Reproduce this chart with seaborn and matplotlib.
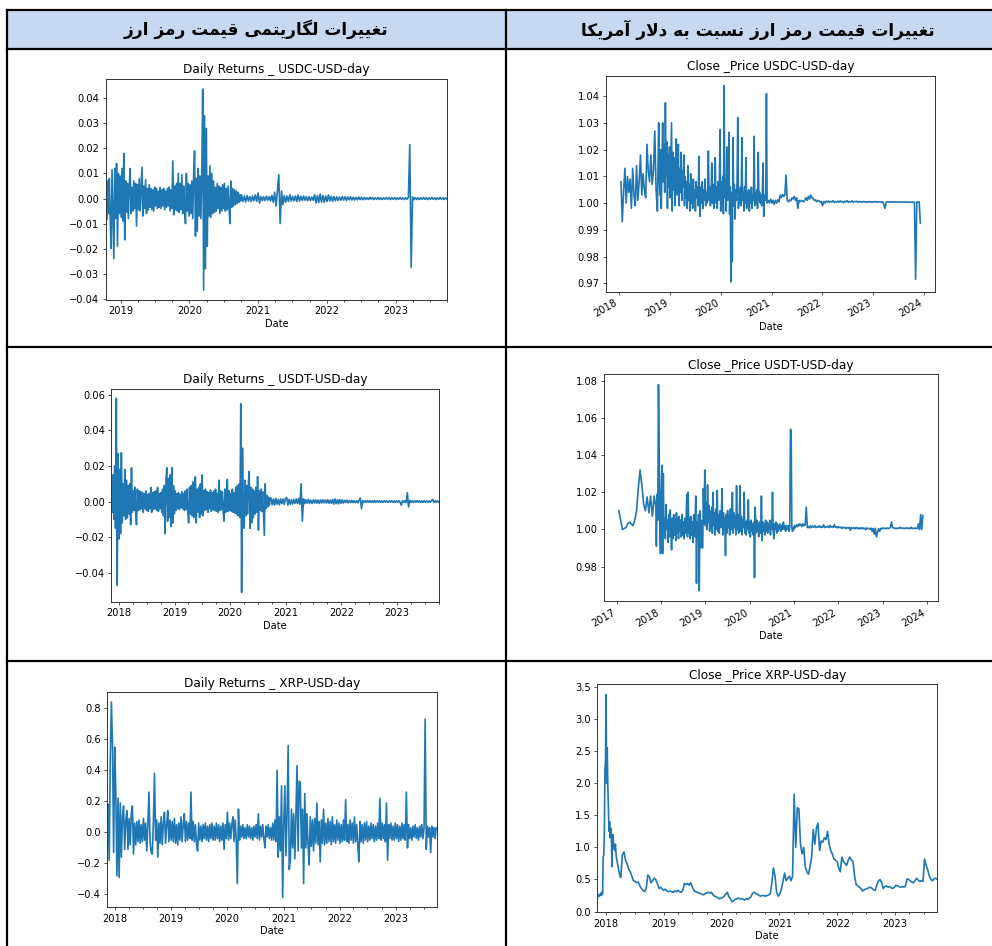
import numpy as np
import pandas as pd
import matplotlib
matplotlib.use("Agg")
import matplotlib.pyplot as plt
import matplotlib.dates as mdates
from matplotlib.ticker import MultipleLocator
from matplotlib.lines import Line2D
from matplotlib.patches import Rectangle
import seaborn as sns

# ------------------------------------------------------------------ text
header_left = "تغییرات لگاریتمی قیمت رمز ارز"
header_right = "تغییرات قیمت رمز ارز نسبت به دلار آمریکا"
title_usdc_ret = "Daily Returns _ USDC-USD-day"
title_usdc_px = "Close _Price USDC-USD-day"
title_usdt_ret = "Daily Returns _ USDT-USD-day"
title_usdt_px = "Close _Price USDT-USD-day"
title_xrp_ret = "Daily Returns _ XRP-USD-day"
title_xrp_px = "Close _Price XRP-USD-day"
xlabel = "Date"

# ------------------------------------------------------------------ data
# USDC daily log returns (units of 1e-4)
usdc_ret_dense_e4 = [105, -85, 70, -60, 80, -90, -200, 115, -70, -240,
    120, -80, 140, -190, 100, -60, 90, -75, 120, -90,
    180, -165, 70, -55, 60, -80, 50, 120, -60, 45,
    -50, 70, -40, 60, -110, 55, -45, 80, -50, 40,
    125, -70, 50, -40, 75, -60, 40, -45, 55, -35,
    40, -45, 35, -50, 45, -30, 40, -40, 30, -35,
    45, -40, 35, -30, 40, -45, 30, -35, 40, -30,
    45, -50, 35, -40, 150, -65, 50, -45, 60, -50,
    100, -55, 60, -45, 95, -60, 50, -40, -100, 100,
    -50, 60, -70, 55, -60, 70, -80, 90, 190, -150,
    80, -130, 120, -70, 90, -80, 100, 437, -365, 330,
    -280, 280, -190, 90, -70, 130, -75, 100, -60, 70,
    -55, 45, -50, 60, -40, 50, -60, 45, -50, 55,
    -40, 60, -50, 40, -45, 50, -35, -100, 70, -35,
    40, -30, 35, -25, 30, -20, 25, -15, 15, -10]
usdc_ret_calm_e4 = [15, -12, 10, -14, 12, -10, 8, -12, 10, -9, 14, -11,
    22, -18,
    8, -9, 7, -8, 9, -7, 8, -10, 12, -15,
    25, -30, 28, 95, -100, 30, -25,
    12, -15, 10, -12, 15, -10, 8, -9, 10, -12, 14, -10, 9, -8, 10, -7, 8, -9, 7, -8, 6, -7,
    15, -18, 12, -16, 18, -14, 12, -15, 10, -12, 14, -10, 9, -11, 8, -9,
    7, -8, 6, -7, 8, -6, 7, -8, 6, -5, 7, -6, 5, -6, 4, -5, 6, -4, 5, -5,
    4, -4, 3, -4, 5, -3, 4, -4, 3, -3, 4, -4, 3, -4, 3, -3, 4, -3, 3, -4, 3, -3, 4, -4, 3, -3, 4, -3, 3, -4, 3, -3,
    5, 215, -275, 6,
    -5, 4, -4, 3, -4, 3, -3, 4, -3, 3, -4, 3, -3, 4, -3, 3, -4, 3, -3, 4, -3, 3, -4, 3, -3]

# USDC close price
usdc_px_2018 = [1.008, 0.993, 1.004, 1.013, 1.000, 1.010, 1.004, 1.009, 0.998, 1.013,
    1.003, 0.999, 1.014, 1.001, 1.008, 1.018, 1.003, 1.011, 1.005, 1.002,
    1.022, 1.012, 1.008, 1.018, 1.007, 1.012, 1.027, 1.005, 0.997, 1.030]
usdc_px_dense = [1.012, 1.003, 1.020, 0.998, 1.015, 1.030, 1.008, 1.022, 1.004, 1.0375,
    1.010, 1.023, 0.998, 1.018, 1.006, 1.021, 1.002, 1.016, 1.030, 0.997,
    1.019, 1.005, 1.017, 0.999, 1.014, 1.024, 1.003, 1.016, 1.022, 0.999,
    1.013, 1.004, 1.019, 1.001, 1.012, 1.006, 1.018, 0.999, 1.010, 1.002,
    1.008, 0.998, 1.014, 1.001, 1.007, 0.997, 1.011, 1.000, 1.006, 0.998,
    1.009, 1.001, 1.005, 0.997, 1.008, 1.002, 1.006, 0.999, 1.0175, 1.002,
    0.995, 1.006, 1.000, 1.008, 0.998, 1.005, 1.001, 1.009, 0.999, 1.004,
    1.000, 1.007, 1.0195, 1.001, 1.006, 0.999, 1.005, 1.015, 1.000, 1.007,
    0.998, 1.004, 1.017, 1.000, 1.006, 0.998, 1.008, 1.001, 1.005, 1.0275,
    0.997, 1.008, 1.000, 1.010, 0.996, 1.044, 1.002, 1.009, 0.997, 1.021,
    1.001, 1.008, 1.0265, 0.996, 1.006, 0.9705, 1.004, 0.978, 1.0245, 0.999,
    1.007, 0.994, 1.005, 1.001, 1.008, 1.032, 0.998, 1.005, 1.000, 1.006,
    0.999, 1.0245, 1.001, 1.004, 0.997, 1.006, 1.000, 1.017, 0.998, 1.004,
    1.001, 1.005, 0.997, 1.004, 1.000, 1.006, 0.998, 1.003, 1.001, 1.025,
    0.999, 1.004, 1.000, 1.005, 0.998, 1.019, 1.001, 1.004, 1.000, 1.003,
    0.999, 1.004, 1.015, 0.995, 1.003, 1.001, 1.002, 1.041, 1.000, 1.001]
usdc_px_calm = [1.001, 1.000, 1.0015, 1.000, 1.001, 0.9995, 1.001, 1.000, 1.0012, 1.0005,
    1.003, 1.002, 1.0032, 1.0025, 1.003, 1.0105, 1.001, 1.0005, 1.0012, 1.0008,
    1.002, 1.0015, 1.0025, 1.001, 1.002, 0.998, 1.001, 1.0005, 1.001, 1.0008,
    1.0005, 1.0012, 1.002, 1.001, 1.0025, 1.0015, 1.003, 1.002, 1.0018, 1.001,
    1.0012, 1.0005, 1.001, 1.0008, 1.0003, 1.0006, 0.999, 1.0005, 1.000, 1.0007,
    1.0004, 1.0008, 1.0003, 1.0006, 1.0004, 1.0009, 1.0002, 1.0006, 1.0004, 1.0007,
    1.0003, 1.0008, 1.0004, 1.0006, 1.0002, 1.0007, 1.0004, 1.0009, 1.0003, 1.0006,
    1.0004, 1.0008, 1.0003, 1.0006, 1.0005, 1.0007, 1.0003, 1.0006, 1.0004, 1.0005,
    1.0003, 1.0006, 1.0004, 1.0005, 1.0003, 1.0006, 1.0004, 1.0005, 1.0003, 1.0005,
    1.0004, 1.0006, 1.0003, 1.0005, 1.0004, 1.0005, 1.0003, 1.0005, 0.9995, 0.998,
    1.0003, 1.0005, 1.0004, 1.0005, 1.0003, 1.0005, 1.0004, 1.0005, 1.0003, 1.0004,
    1.0005, 1.0003, 1.0004, 1.0005, 1.0003, 1.0004, 1.0005, 1.0003, 1.0004, 1.0003,
    1.0004, 1.0003, 1.0004, 1.0003, 1.0004, 0.9715, 1.0004, 1.0003, 1.0005, 0.9925]

# USDT daily log returns (units of 1e-4)
usdt_ret_dense_e4 = [80, -60, 150, -100, 200, -150, 580, -470, 270, -210,
    180, -180, 275, -120, 100, -80, 180, -100, 120, -90,
    90, -70, 100, -130, 190, -60, 60, -50, 80, -60,
    -130, 70, -50, 60, -45, 55, -40, 50, -60, 45,
    -40, 60, -50, 40, -55, 45, -40, 80, -60, 50,
    -45, 55, -40, 60, -50, 80, -55, 45, -40, 50,
    -60, 70, -80, 90, -180, 120, 190, -110, 130, -90,
    150, -140, 190, -120, 90, -70, 60, -50, 45, -40,
    50, -45, 40, -35, 55, -40, 45, -50, 60, -45,
    70, -60, -120, 80, -70, 90, -80, 110, -90, 80,
    140, -120, 70, -60, 80, -90, 100, -70, 150, -80,
    60, -50, 70, -45, 55, -60, 50, -40, 65, -55,
    50, -45, 60, -50, 70, -55, 45, -60, 120, -50,
    60, -45, 55, -50, -110, 70, -60, 50, 125, -55,
    60, -50, 45, -55, 70, -60, 50, -65, 80, -70,
    90, -80, 100, -90, 550, -510, 300, -100, -150, 120,
    -80, 90, -70, 100, 170, -150, 80, -120, 70, -90,
    60, -70, 80, -60, 140, -160, 60, -50, 70, -55,
    55, -60, -190, 100, -40, 35, -30, 25, -20, 20]
usdt_ret_calm_e4 = [20, -18, 15, -20, 18, -15, 12, -18, 15, -12,
    14, -16, 18, 22, -20, 12, -15, 10, -14, 12,
    -10, 15, -12, 18, -15, 100, -110, 15, -12, 10,
    -9, 12, -10, 8, -11, 9, -8, 10, -9, 8,
    -10, 9, -8, 10, -7, 9, -8, 10, -9, 8,
    -10, 12, -14, 15, -12, 10, -13, 12, -10, 9,
    -8, 7, -6, 8, -7, 6, -5, 7, -6, 5,
    -6, 5, -7, 6, 20, -40, 6, -5, 4, -5,
    5, -4, 5, -5, 4, -5, 6, -4, 5, -4,
    4, -5, 4, -4, 5, -4, 4, -5, 4, -4,
    5, -4, 4, -5, 4, -4, 5, -4, -20, 5,
    -4, 5, -6, 50, -30, 6, -5, 4, -5, 5,
    -4, 5, -4, 4, -5, 4, -4, 5, -4, 4,
    -5, 4, -4, 6, 12, -5, 4, -4, 5, -4]

# USDT close price
usdt_px_2017 = [1.010, 1.005, 1.000, 1.0005, 1.001, 1.003, 1.004, 1.003, 1.002, 1.005,
    1.010, 1.022, 1.032, 1.024, 1.014, 1.010, 1.0175, 1.009, 1.018, 1.007,
    1.018, 1.012]
usdt_px_dense = [0.991, 1.019, 1.005, 1.078, 1.045, 0.997, 0.987, 1.020, 1.0345, 0.987,
    1.030, 0.998, 1.006, 0.995, 1.0135, 1.000, 1.005, 0.993, 1.008, 0.996,
    1.0105, 0.998, 0.989, 1.006, 0.995, 1.008, 0.997, 1.005, 0.994, 1.009,
    0.998, 1.006, 0.995, 1.007, 0.999, 1.005, 0.996, 1.008, 0.997, 1.004,
    0.995, 1.006, 0.998, 1.005, 1.019, 0.996, 1.020, 0.998, 1.006, 0.995,
    1.007, 0.997, 1.004, 0.993, 1.008, 0.996, 1.005, 1.018, 0.971, 1.004,
    0.995, 1.008, 0.967, 1.010, 0.990, 1.005, 0.998, 0.990, 1.022, 1.003,
    1.032, 1.002, 1.015, 1.000, 1.024, 1.004, 1.013, 0.999, 1.010, 1.001,
    1.012, 0.998, 1.020, 1.002, 1.009, 0.997, 1.011, 1.000, 1.021, 0.999,
    1.008, 0.998, 1.010, 1.001, 1.007, 1.022, 0.997, 1.009, 1.000, 1.006,
    0.986, 1.008, 0.998, 1.010, 1.001, 1.007, 0.997, 1.011, 1.000, 1.006,
    1.020, 0.998, 1.009, 1.001, 1.007, 0.997, 1.0235, 1.000, 1.008, 0.998,
    1.006, 1.0235, 0.999, 1.007, 0.997, 1.005, 1.001, 1.020, 0.998, 1.004,
    0.997, 1.005, 1.000, 1.016, 0.998, 1.004, 0.996, 1.005, 0.999, 1.003,
    0.997, 1.004, 0.974, 1.012, 0.998, 1.005, 0.999, 1.003, 0.996, 1.004,
    1.000, 0.998, 1.018, 0.994, 1.004, 0.999, 1.003, 0.997, 1.005, 0.999,
    1.004, 0.998, 1.003, 1.000, 1.005, 0.997, 1.003, 1.000, 1.020, 0.999,
    0.995, 1.003, 1.000, 1.004, 0.998, 1.003, 0.999, 1.002, 1.000, 1.003,
    0.999, 1.002, 1.000, 1.003, 1.004, 1.000, 1.002, 0.999, 1.002, 1.001,
    1.000, 1.002, 0.999, 1.001, 1.054, 1.053, 1.001, 0.999, 1.001, 1.000]
usdt_px_calm = [1.002, 1.001, 1.0025, 1.0015, 1.003, 1.002, 1.0028, 1.0015, 1.003, 1.002,
    1.0025, 1.012, 1.001, 1.0015, 1.0008, 1.002, 1.001, 1.0018, 1.0012, 1.002,
    1.001, 1.0015, 1.0012, 1.002, 1.001, 1.0016, 1.0011, 1.0024, 1.001, 1.0015,
    1.0012, 1.0018, 1.001, 1.0022, 1.0012, 1.0016, 1.001, 1.0025, 1.0012, 1.0015,
    1.0008, 1.0015, 1.001, 1.0012, 1.0005, 1.0012, 1.0008, 1.0011, 1.0004, 1.001,
    1.0007, 1.0012, 0.9995, 1.001, 1.0006, 1.0009, 1.0003, 1.0011, 1.0005, 1.0009,
    1.0002, 1.0008, 1.0004, 1.001, 1.0003, 1.0007, 0.9998, 1.0008, 1.0004, 1.0006,
    1.0002, 1.0007, 0.999, 1.0005, 0.9975, 1.0006, 0.996, 0.9985, 1.0004, 0.999,
    1.0006, 1.0003, 1.0008, 1.0005, 1.0007, 1.0004, 1.0008, 1.0005, 1.0006, 1.0012,
    1.004, 1.001, 1.0008, 1.0005, 1.0007, 1.0004, 1.0008, 1.0005, 1.0012, 1.0006,
    1.0008, 1.0005, 1.0007, 1.0004, 1.0009, 1.0005, 1.0007, 1.0004, 1.0012, 1.0005,
    1.0007, 1.0004, 1.0008, 1.0005, 1.0006, 1.003, 1.000, 1.008, 1.000, 1.0075]

# XRP daily log returns
xrp_ret = [0.05, 0.18, -0.18, 0.48, 0.84, 0.55, -0.13, 0.55, 0.25, -0.28,
    0.22, -0.29, 0.19, -0.16, 0.10, 0.17, -0.11, 0.08, 0.14, -0.11,
    0.09, -0.08, 0.12, 0.17, -0.14, 0.06, -0.08, 0.07, -0.06, 0.08,
    -0.07, 0.05, -0.06, 0.09, -0.05, 0.06, -0.12, 0.05, 0.26, -0.06,
    -0.13, -0.14, 0.07, 0.38, -0.05, 0.08, -0.16, 0.06, -0.07, 0.10,
    -0.08, 0.06, 0.13, -0.07, 0.05, 0.14, -0.06, 0.08, -0.05, 0.07,
    -0.06, 0.09, -0.07, 0.05, -0.08, 0.06, -0.05, 0.10, -0.06, 0.05,
    0.12, -0.06, 0.07, -0.05, 0.06, -0.04, 0.26, -0.05, 0.07, -0.06,
    0.05, -0.07, -0.12, 0.06, -0.05, 0.04, -0.06, 0.05, -0.04, 0.06,
    -0.05, 0.04, -0.06, 0.05, -0.04, 0.06, -0.05, 0.04, -0.05, 0.06,
    -0.04, 0.05, -0.06, 0.04, -0.05, 0.06, -0.11, 0.05, -0.04, 0.13,
    -0.05, 0.06, -0.04, 0.05, 0.10, -0.06, 0.08, -0.05, -0.33, 0.15,
    -0.05, 0.04, -0.03, 0.05, -0.04, 0.03, -0.04, 0.05, -0.03, 0.04,
    -0.04, 0.03, -0.05, 0.04, -0.03, 0.05, -0.04, 0.12, -0.05, 0.04,
    -0.03, 0.05, -0.04, -0.10, 0.04, -0.03, 0.05, -0.04, 0.03, -0.05,
    0.06, -0.05, 0.08, -0.06, 0.40, -0.16, 0.10, -0.12, 0.30, -0.42,
    0.05, 0.30, -0.15, 0.12, 0.56, -0.24, -0.17, 0.15, -0.10, 0.12,
    -0.17, 0.10, 0.43, -0.12, 0.33, 0.32, -0.10, 0.15, -0.33, 0.25,
    -0.10, 0.12, -0.08, -0.21, 0.10, -0.09, 0.08, -0.12, 0.09, -0.07,
    0.19, -0.08, 0.07, -0.19, 0.08, -0.07, 0.15, -0.08, 0.06, -0.07,
    0.09, -0.06, 0.07, -0.08, 0.10, -0.06, 0.05, -0.07, 0.08, -0.05,
    0.06, -0.07, 0.05, -0.06, 0.08, -0.05, 0.21, -0.06, 0.05, -0.07,
    0.08, -0.05, 0.06, -0.07, 0.10, -0.06, 0.05, -0.08, -0.19, 0.07,
    -0.06, 0.05, -0.07, 0.06, -0.05, 0.07, -0.06, 0.04, -0.05, 0.06,
    -0.04, 0.05, -0.06, 0.04, -0.05, 0.06, -0.04, 0.22, -0.05, 0.06,
    -0.04, 0.05, -0.06, 0.19, -0.18, 0.05, -0.04, 0.06, -0.05, 0.04,
    -0.05, 0.06, -0.04, 0.05, -0.06, 0.04, -0.05, 0.06, -0.04, 0.05,
    -0.05, 0.26, -0.10, 0.05, -0.04, 0.03, -0.05, 0.04, -0.03, 0.05,
    -0.04, 0.03, -0.05, 0.04, -0.03, 0.05, -0.04, 0.03, 0.73, -0.11,
    0.04, -0.03, 0.03, -0.13, 0.04, -0.03, 0.03, -0.04, 0.03, 0.02]

# XRP close price
xrp_px_peak = [0.21, 0.24, 0.26, 0.24, 0.25, 0.27, 0.25, 0.30, 0.26, 0.27,
    0.85, 0.88, 1.19, 2.20, 2.35, 3.38, 2.00, 2.55, 1.95, 1.60,
    1.25, 1.40, 1.15, 1.30, 1.20, 0.70, 1.05, 1.20, 0.98, 1.05,
    0.95, 1.05, 0.90, 0.82, 0.78, 0.72, 0.68, 0.62, 0.58, 0.55]
xrp_px_rest = [0.53, 0.88, 0.93, 0.80, 0.74, 0.66, 0.62, 0.55, 0.48, 0.47,
    0.45, 0.46, 0.40, 0.36, 0.33, 0.31, 0.36, 0.57, 0.54, 0.45,
    0.48, 0.52, 0.50, 0.44, 0.36, 0.38, 0.35, 0.33, 0.35, 0.32,
    0.31, 0.32, 0.31, 0.30, 0.32, 0.31, 0.33, 0.31, 0.30, 0.33,
    0.44, 0.42, 0.44, 0.41, 0.45, 0.38, 0.33, 0.31, 0.30, 0.29,
    0.28, 0.27, 0.26, 0.28, 0.29, 0.30, 0.29, 0.30, 0.26, 0.24,
    0.23, 0.21, 0.20, 0.21, 0.22, 0.24, 0.27, 0.30, 0.23, 0.20,
    0.15, 0.17, 0.19, 0.20, 0.21, 0.20, 0.20, 0.19, 0.18, 0.20,
    0.19, 0.21, 0.24, 0.29, 0.30, 0.28, 0.27, 0.25, 0.24, 0.25,
    0.25, 0.24, 0.25, 0.26, 0.28, 0.45, 0.68, 0.55, 0.30, 0.24,
    0.28, 0.35, 0.47, 0.60, 0.48, 0.52, 0.55, 0.48, 0.55, 1.83,
    1.00, 1.62, 1.60, 1.05, 0.90, 1.00, 0.70, 0.62, 0.58, 0.70,
    0.85, 1.28, 1.05, 1.30, 1.38, 0.95, 1.10, 1.08, 1.15, 1.12,
    1.25, 1.05, 0.95, 0.90, 0.82, 0.80, 0.78, 0.68, 0.62, 0.85,
    0.78, 0.75, 0.72, 0.80, 0.85, 0.80, 0.78, 0.55, 0.42, 0.40,
    0.38, 0.36, 0.32, 0.34, 0.35, 0.36, 0.37, 0.38, 0.36, 0.34,
    0.33, 0.42, 0.48, 0.50, 0.45, 0.36, 0.39, 0.40, 0.38, 0.39,
    0.37, 0.36, 0.38, 0.41, 0.40, 0.39, 0.38, 0.39, 0.38, 0.40,
    0.51, 0.50, 0.48, 0.46, 0.45, 0.48, 0.52, 0.49, 0.47, 0.48,
    0.47, 0.82, 0.72, 0.65, 0.55, 0.50, 0.48, 0.51, 0.52, 0.50]

# date spans of each recorded stretch (start, end, values)
usdc_ret_parts = [("2018-10-13", "2020-09-30", np.array(usdc_ret_dense_e4) * 1e-4),
                  ("2020-10-04", "2023-10-01", np.array(usdc_ret_calm_e4) * 1e-4)]
usdc_px_parts = [("2018-01-14", "2018-10-12", usdc_px_2018),
                 ("2018-10-16", "2020-12-04", usdc_px_dense),
                 ("2020-12-08", "2023-12-05", usdc_px_calm)]
usdt_ret_parts = [("2017-11-11", "2020-09-20", np.array(usdt_ret_dense_e4) * 1e-4),
                  ("2020-09-25", "2023-10-02", np.array(usdt_ret_calm_e4) * 1e-4)]
usdt_px_parts = [("2017-01-19", "2017-11-20", usdt_px_2017),
                 ("2017-11-24", "2020-12-31", usdt_px_dense),
                 ("2021-01-04", "2023-11-28", usdt_px_calm)]
xrp_ret_parts = [("2017-11-10", "2023-09-28", xrp_ret)]
xrp_px_parts = [("2017-11-08", "2018-04-01", xrp_px_peak),
                ("2018-04-05", "2023-09-24", xrp_px_rest)]


def build(parts):
    d, v = [], []
    for start, end, vals in parts:
        d.append(pd.date_range(start, end, periods=len(vals)))
        v.extend(list(vals))
    return pd.DatetimeIndex(np.concatenate(d)), np.array(v, dtype=float)


# --------------------------------------------------- Persian shaping (RTL)
FORMS = {
    '\u0627': ('\uFE8D', '\uFE8E', None, None),
    '\u0622': ('\uFE81', '\uFE82', None, None),
    '\u0628': ('\uFE8F', '\uFE90', '\uFE91', '\uFE92'),
    '\u062A': ('\uFE95', '\uFE96', '\uFE97', '\uFE98'),
    '\u062F': ('\uFEA9', '\uFEAA', None, None),
    '\u0631': ('\uFEAD', '\uFEAE', None, None),
    '\u0632': ('\uFEAF', '\uFEB0', None, None),
    '\u0633': ('\uFEB1', '\uFEB2', '\uFEB3', '\uFEB4'),
    '\u063A': ('\uFECD', '\uFECE', '\uFECF', '\uFED0'),
    '\u0642': ('\uFED5', '\uFED6', '\uFED7', '\uFED8'),
    '\u0644': ('\uFEDD', '\uFEDE', '\uFEDF', '\uFEE0'),
    '\u0645': ('\uFEE1', '\uFEE2', '\uFEE3', '\uFEE4'),
    '\u0646': ('\uFEE5', '\uFEE6', '\uFEE7', '\uFEE8'),
    '\u0647': ('\uFEE9', '\uFEEA', '\uFEEB', '\uFEEC'),
    '\u06CC': ('\uFBFC', '\uFBFD', '\uFBFE', '\uFBFF'),
    '\u064A': ('\uFEF1', '\uFEF2', '\uFEF3', '\uFEF4'),
    '\u06A9': ('\uFB8E', '\uFB8F', '\uFB90', '\uFB91'),
    '\u0643': ('\uFED9', '\uFEDA', '\uFEDB', '\uFEDC'),
    '\u06AF': ('\uFB92', '\uFB93', '\uFB94', '\uFB95'),
}
LAM_ALEF = {'\u0627': ('\uFEFB', '\uFEFC'), '\u0622': ('\uFEF5', '\uFEF6')}


def shape_word(w):
    toks, i = [], 0
    while i < len(w):
        if w[i] == '\u0644' and i + 1 < len(w) and w[i + 1] in LAM_ALEF:
            toks.append(('LA', w[i + 1])); i += 2
        else:
            toks.append(('C', w[i])); i += 1
    out = []
    for k, (kind, c) in enumerate(toks):
        prev = toks[k - 1] if k > 0 else None
        nxt = toks[k + 1] if k + 1 < len(toks) else None
        jp = (prev is not None and prev[0] == 'C' and prev[1] in FORMS
              and FORMS[prev[1]][2] is not None)
        if kind == 'LA':
            out.append(LAM_ALEF[c][1] if jp else LAM_ALEF[c][0])
            continue
        f = FORMS.get(c)
        if f is None:
            out.append(c); continue
        jn = nxt is not None and f[2] is not None and (nxt[0] == 'LA' or nxt[1] in FORMS)
        if jp and jn:
            out.append(f[3])
        elif jp:
            out.append(f[1])
        elif jn:
            out.append(f[2])
        else:
            out.append(f[0])
    return ''.join(reversed(out))


def rtl(text):
    return ' '.join(shape_word(w) for w in reversed(text.split(' ')))


# ------------------------------------------------------------------ figure
W, H = 992, 946
fig = plt.figure(figsize=(W / 100, H / 100), dpi=100, facecolor='white')
LINE = '#1f77b4'


def rect(l, t, r, b):
    return [l / W, 1 - b / H, (r - l) / W, (b - t) / H]


def px(x, y):
    return x / W, 1 - y / H


# table header fill and borders
fig.add_artist(Rectangle(px(7, 49.3), (W - 7) / W, (49.3 - 10) / H,
                         transform=fig.transFigure, facecolor='#c6d9f1',
                         edgecolor='none', zorder=0))
lw_tab = 1.6
for (x0, y0, x1, y1) in [(7, 10, W + 5, 10), (7, 49.3, W + 5, 49.3),
                         (7, 346.7, W + 5, 346.7), (7, 660.7, W + 5, 660.7),
                         (7, 10, 7, H + 5), (505.7, 10, 505.7, H + 5)]:
    a, b = px(x0, y0)
    c, d = px(x1, y1)
    fig.add_artist(Line2D([a, c], [b, d], transform=fig.transFigure,
                          color='black', lw=lw_tab, solid_capstyle='projecting'))

fig.text(*px(256, 29.5), rtl(header_left), ha='center', va='center',
         fontsize=12.2, fontweight='bold', family=['DejaVu Sans'])
fig.text(*px(758, 29.5), rtl(header_right), ha='center', va='center',
         fontsize=12.2, fontweight='bold', family=['DejaVu Sans'])

panels = [
    # parts, title, rect, pandas-style, y step
    (usdc_ret_parts, title_usdc_ret, (105.7, 79, 447, 300), True, 0.01),
    (usdc_px_parts, title_usdc_px, (606, 75.7, 935.3, 291.7), False, 0.01),
    (usdt_ret_parts, title_usdt_ret, (111.3, 388.7, 438.7, 602), True, 0.02),
    (usdt_px_parts, title_usdt_px, (603.7, 374.3, 938, 601), False, 0.02),
    (xrp_ret_parts, title_xrp_ret, (107, 692.3, 437.3, 907.3), True, 0.2),
    (xrp_px_parts, title_xrp_px, (597.3, 684.3, 937.3, 912.3), True, 0.5),
]

TICK_FS = 7.1
for parts, title, r, pandas_style, ystep in panels:
    ax = fig.add_axes(rect(*r))
    dates, vals = build(parts)
    sns.lineplot(x=dates, y=vals, ax=ax, color=LINE, linewidth=1.2,
                 estimator=None, sort=False)
    ax.set_title(title, fontsize=8.7, pad=4)
    ax.set_xlabel(xlabel, fontsize=TICK_FS, labelpad=2)
    ax.set_ylabel('')
    ax.yaxis.set_major_locator(MultipleLocator(ystep))
    ax.xaxis.set_major_locator(mdates.YearLocator())
    ax.xaxis.set_major_formatter(mdates.DateFormatter('%Y'))
    ax.tick_params(axis='both', labelsize=TICK_FS, length=2.5, width=0.6,
                   pad=2, color='#333333')
    for s in ax.spines.values():
        s.set_linewidth(0.7)
        s.set_color('#333333')
    if pandas_style:
        ax.set_xlim(dates[0], dates[-1])
        ax.xaxis.set_minor_locator(mdates.MonthLocator(bymonth=[4, 7, 10]))
        ax.tick_params(axis='x', which='minor', length=1.5, width=0.5)
    else:
        ax.tick_params(axis='x', labelrotation=30)
        plt.setp(ax.get_xticklabels(), ha='right', rotation_mode='default')

fig.savefig('out.png', dpi=100, facecolor='white')
